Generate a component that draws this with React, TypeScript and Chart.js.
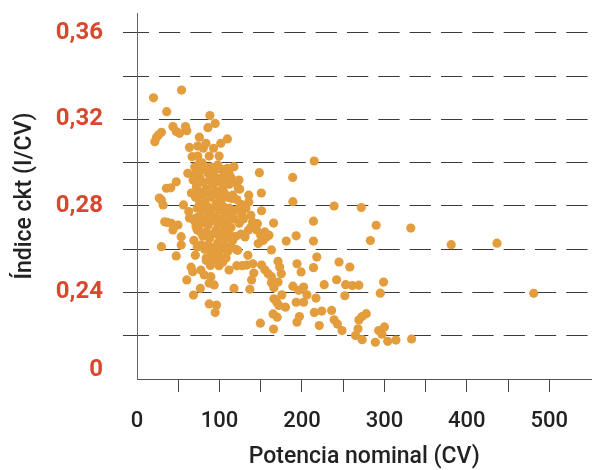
import { useEffect, useRef } from 'react';
import { Chart, registerables } from 'chart.js';

Chart.register(...registerables);

// Potencia nominal (CV)
const powerCV: number[] = [
  20, 54, 36, 21.6, 23.6, 26, 29.6, 43.6, 47.6, 51.6, 58.8, 60.4, 88.4, 86, 94.8,
  75.6, 73.6, 83.6, 80.4, 92.8, 87.6, 99.6, 101.6, 109.6, 63.6, 66.8, 73.6,
  61.6, 69.6, 47.6, 35.6, 41, 75.6, 77.6, 87.6, 109.6, 117.6, 111.6, 148.4, 123.6, 122.8, 188.8, 214.8,
  27, 29.6, 31.6, 56.4, 33.6, 37, 41.6, 49.6, 43.6, 53.6, 53.6, 29.6, 47.6,
  62.8, 63.6, 71.6, 71.6, 73, 69, 73, 70.7, 60.4, 68.4, 76.8, 65.6, 67.6, 77.6, 81.6,
  89.6, 87.6, 93.6, 87.6, 96.4, 94.8, 117.6, 136.8, 84, 89, 98, 99.5, 93.5, 111.6,
  121, 127.7, 133, 122, 134.5, 140.5, 141.6, 139, 131, 135, 138, 145, 147, 153, 157, 160, 150, 155,
  113, 124, 126, 130, 124.5, 122, 115, 138, 135.5, 135.5, 140, 146, 150.8, 151, 165.6,
  151, 155, 159, 163, 163, 171, 173, 175,
  149.6, 165.6, 165, 170, 166, 169.5, 172, 175.6, 180, 166, 171, 163,
  181, 193, 189, 214, 214, 218, 214, 194, 199, 189, 196, 202, 206, 193, 202, 217, 215, 224, 197, 194, 221, 227,
  236, 239, 243, 248.6, 239, 242, 245, 258, 253, 261, 269, 252, 272, 290, 283, 299, 295,
  269, 273, 278, 268, 265, 273, 293, 297, 300, 289, 304, 314, 333, 332, 381, 436.5, 481,
  70, 74, 79, 82, 86, 90, 93, 98, 102, 105, 110, 114,
  68, 72, 76, 80, 84, 88, 92, 96, 100, 104, 107, 112, 118,
  66, 71, 74, 78, 82, 86, 90, 95, 98, 102, 106, 110, 116, 121,
  73, 76, 80, 85, 88, 92, 96, 100, 104, 108, 112, 119, 127, 132,
  70, 75, 78, 82, 86, 90, 94, 98, 102, 106, 110, 114, 118, 124, 129,
  77, 80, 84, 88, 92, 96, 100, 104, 108, 112, 116, 120, 126,
  78, 82, 86, 90, 94, 98, 102, 106, 110, 114, 120,
  84, 88, 92, 96, 100, 104, 108,
];

// Índice ckt (I/CV)
const cktIndex: number[] = [
  0.330, 0.3336, 0.3236, 0.3097, 0.3117, 0.3128, 0.3141, 0.3167, 0.3144, 0.3136, 0.3167, 0.3148, 0.3218, 0.3162, 0.3182,
  0.3118, 0.3077, 0.309, 0.3067, 0.3067, 0.3031, 0.3031, 0.309, 0.311, 0.3071, 0.3028, 0.3031,
  0.2951, 0.2943, 0.2912, 0.2882, 0.2884, 0.2997, 0.2966, 0.2979, 0.2974, 0.2982, 0.2951, 0.2954, 0.292, 0.2882, 0.2932, 0.3008,
  0.2837, 0.2828, 0.2805, 0.2805, 0.2727, 0.2724, 0.272, 0.2712, 0.2689, 0.2658, 0.262, 0.2612, 0.2569,
  0.2774, 0.2744, 0.2744, 0.2704, 0.2689, 0.2641, 0.261, 0.2572, 0.2458, 0.2388, 0.2419, 0.2517, 0.2496, 0.2504, 0.2481,
  0.2473, 0.2443, 0.2435, 0.2347, 0.2342, 0.2307, 0.2419, 0.2415, 0.2548, 0.2525, 0.2548, 0.2524, 0.258, 0.2504,
  0.2524, 0.2524, 0.2527, 0.2595, 0.2572, 0.2533, 0.249, 0.2458, 0.2657, 0.2688, 0.27, 0.2689, 0.2626, 0.2641, 0.2657, 0.2665, 0.2665, 0.268,
  0.2765, 0.2788, 0.2808, 0.2795, 0.2878, 0.2915, 0.2835, 0.2757, 0.285, 0.2819, 0.2726, 0.2718, 0.286, 0.2778, 0.2721,
  0.2527, 0.2505, 0.2487, 0.2473, 0.2597, 0.2544, 0.2518, 0.2487,
  0.2258, 0.2231, 0.2301, 0.2286, 0.2371, 0.2355, 0.234, 0.2389, 0.2332, 0.2422, 0.2448, 0.2445,
  0.2638, 0.2662, 0.282, 0.273, 0.2638, 0.2564, 0.2515, 0.2533, 0.2495, 0.2429, 0.241, 0.2425, 0.2389, 0.2355, 0.2355, 0.2374, 0.2308, 0.2314, 0.2289, 0.2263, 0.2247, 0.2436,
  0.2317, 0.2274, 0.2254, 0.2224, 0.28, 0.2459, 0.2541, 0.2518, 0.2436, 0.2432, 0.2434, 0.2385, 0.2793, 0.2711, 0.264, 0.2448, 0.2397,
  0.2273, 0.2289, 0.2302, 0.2232, 0.2201, 0.2182, 0.2224, 0.2207, 0.2241, 0.217, 0.2174, 0.218, 0.2185, 0.2698, 0.2621, 0.2628, 0.2396,
  0.298, 0.296, 0.300, 0.297, 0.295, 0.298, 0.296, 0.299, 0.297, 0.294, 0.296, 0.293,
  0.292, 0.289, 0.293, 0.291, 0.288, 0.292, 0.290, 0.293, 0.291, 0.288, 0.292, 0.290, 0.291,
  0.286, 0.284, 0.287, 0.285, 0.282, 0.286, 0.284, 0.287, 0.285, 0.283, 0.286, 0.284, 0.285, 0.283,
  0.279, 0.281, 0.278, 0.280, 0.277, 0.279, 0.281, 0.278, 0.280, 0.277, 0.279, 0.278, 0.276, 0.279,
  0.273, 0.275, 0.272, 0.274, 0.271, 0.273, 0.275, 0.272, 0.274, 0.271, 0.273, 0.270, 0.274, 0.272, 0.274,
  0.268, 0.266, 0.268, 0.265, 0.267, 0.269, 0.266, 0.268, 0.265, 0.267, 0.264, 0.266, 0.267,
  0.262, 0.260, 0.262, 0.259, 0.261, 0.263, 0.260, 0.262, 0.259, 0.261, 0.260,
  0.256, 0.254, 0.257, 0.255, 0.257, 0.254, 0.256,
];

const xTickValues: number[] = [0, 50, 100, 150, 200, 250, 300, 350, 400, 450, 500];
const xTickLabels: string[] = ['0', '', '100', '', '200', '', '300', '', '400', '', '500'];
const yTickValues: number[] = [0.20416, 0.22, 0.24, 0.26, 0.28, 0.30, 0.32, 0.34, 0.36];
const yTickLabels: string[] = ['0', '', '0,24', '', '0,28', '', '0,32', '', '0,36'];

const FONT = 'Roboto';

export default function App() {
  const ref = useRef<HTMLCanvasElement | null>(null);

  useEffect(() => {
    document.body.style.margin = '0';
    if (!ref.current) return;
    const n = Math.min(powerCV.length, cktIndex.length);
    const points = [];
    for (let i = 0; i < n; i++) points.push({ x: powerCV[i], y: cktIndex[i] });

    const chart = new Chart(ref.current, {
      type: 'scatter',
      data: {
        datasets: [
          {
            data: points,
            backgroundColor: '#e49d3d',
            borderWidth: 0,
            pointRadius: 4.6,
            pointHoverRadius: 4.6,
          },
        ],
      },
      options: {
        responsive: false,
        animation: false,
        layout: { padding: { top: 13, left: 0, right: 0, bottom: 0 } },
        plugins: { legend: { display: false }, tooltip: { enabled: false } },
        scales: {
          x: {
            type: 'linear',
            min: 0,
            max: 551,
            afterBuildTicks: (s: any) => {
              s.ticks = xTickValues.map((v) => ({ value: v }));
            },
            afterFit: (s: any) => {
              s.height = 91;
              s.paddingLeft = 0;
              s.paddingRight = 0;
            },
            ticks: {
              autoSkip: false,
              maxRotation: 0,
              padding: 18.5,
              color: '#222',
              font: { family: FONT, size: 22, weight: '500', lineHeight: 1 },
              callback: (v: any) => {
                const i = xTickValues.indexOf(Number(v));
                return i >= 0 ? xTickLabels[i] : '';
              },
            },
            grid: {
              drawOnChartArea: false,
              drawTicks: true,
              tickLength: 13,
              color: '#444',
              tickColor: (ctx: any) => (ctx.tick && ctx.tick.value === 0 ? 'rgba(0,0,0,0)' : '#444'),
            },
            border: { display: true, color: '#555', width: 1 },
            title: {
              display: true,
              text: 'Potencia nominal (CV)',
              color: '#222',
              font: { family: FONT, size: 23, weight: '500', lineHeight: 1 },
              padding: { top: 0, bottom: 1.5 },
            },
          },
          y: {
            type: 'linear',
            min: 0.2,
            max: 0.36924,
            afterBuildTicks: (s: any) => {
              s.ticks = yTickValues.map((v) => ({ value: v }));
            },
            afterFit: (s: any) => {
              s.width = 137;
              s.paddingTop = 0;
              s.paddingBottom = 0;
            },
            ticks: {
              autoSkip: false,
              padding: 20,
              color: '#d9472e',
              font: { family: FONT, size: 24, weight: 'bold', lineHeight: 1 },
              callback: (v: any) => {
                const i = yTickValues.indexOf(Number(v));
                return i >= 0 ? yTickLabels[i] : '';
              },
            },
            grid: {
              drawOnChartArea: true,
              drawTicks: true,
              tickLength: 14,
              lineWidth: 1,
              color: (ctx: any) => (ctx.tick && ctx.tick.value < 0.21 ? 'rgba(0,0,0,0)' : '#3a3a3a'),
              tickColor: (ctx: any) => (ctx.tick && ctx.tick.value < 0.21 ? 'rgba(0,0,0,0)' : '#3a3a3a'),
              tickBorderDash: [],
              borderDash: [21.3, 10.03],
              borderDashOffset: 10.33,
            } as any,
            border: { display: true, color: '#666', width: 1, dash: [21.3, 10.03], dashOffset: 10.33 },
            title: {
              display: true,
              text: 'Índice ckt (I/CV)',
              color: '#222',
              font: { family: FONT, size: 23, weight: '500', lineHeight: 1 },
              padding: { top: 13.5, bottom: 0 },
            },
          },
        },
      } as any,
    });
    return () => chart.destroy();
  }, []);

  return (
    <div style={{ width: 596, height: 470 }}>
      <canvas ref={ref} width={596} height={470} style={{ display: 'block' }} />
    </div>
  );
}
